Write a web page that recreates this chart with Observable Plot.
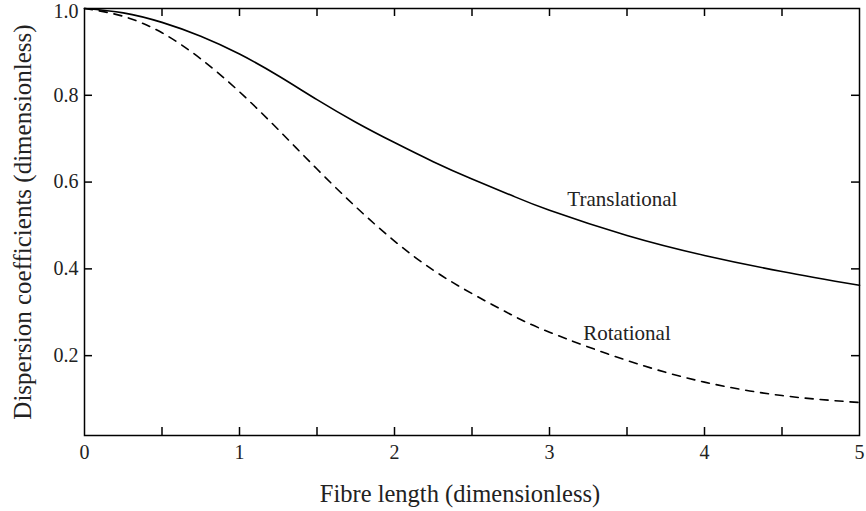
<!DOCTYPE html>
<html>
<head>
<meta charset="utf-8">
<script src="https://cdn.jsdelivr.net/npm/d3@7"></script>
<script src="https://cdn.jsdelivr.net/npm/@observablehq/plot@0.6"></script>
<style>
  html, body { margin: 0; padding: 0; background: #fff; }
  #chart svg { display: block; }
</style>
</head>
<body>
<div id="chart"></div>
<script>
const fibreLength = [0, 0.25, 0.5, 0.75, 1, 1.25, 1.5, 1.75, 2, 2.25, 2.5, 2.75, 3, 3.5, 4, 4.5, 5];
const translational = [1.0, 0.99, 0.968, 0.936, 0.895, 0.845, 0.790, 0.738, 0.691, 0.647, 0.607, 0.570, 0.535, 0.477, 0.431, 0.394, 0.362];
const rotational = [1.0, 0.982, 0.944, 0.884, 0.808, 0.721, 0.630, 0.543, 0.464, 0.397, 0.343, 0.295, 0.254, 0.189, 0.139, 0.108, 0.092];
const xTickLabels = [0, 1, 2, 3, 4, 5];
const xTickMarks = [0.5, 1, 1.5, 2, 2.5, 3, 3.5, 4, 4.5];
const yTickLabels = [0.2, 0.4, 0.6, 0.8];
const yTopLabel = [1.0];
const yTickMarks = [0.2, 0.4, 0.6, 0.8];
const curveLabels = [
  {x: 3.47, y: 0.56, text: "Translational"},
  {x: 3.50, y: 0.251, text: "Rotational"}
];
const xLabel = "Fibre length (dimensionless)";
const yLabel = "Dispersion coefficients (dimensionless)";

const transData = fibreLength.map((x, i) => ({x, y: translational[i]}));
const rotData = fibreLength.map((x, i) => ({x, y: rotational[i]}));

const W = 866, H = 511, mL = 84, mR = 7, mT = 8, mB = 76;
const plotW = W - mL - mR, plotH = H - mT - mB;
const tick = 8;
const font = "'Liberation Serif', 'DejaVu Serif', serif";

const chart = Plot.plot({
  width: W,
  height: H,
  marginLeft: mL,
  marginRight: mR,
  marginTop: mT,
  marginBottom: mB,
  style: {fontFamily: font, color: "#222", background: "#fff"},
  x: {domain: [0, 5]},
  y: {domain: [0.016, 1]},
  marks: [
    Plot.axisX(xTickLabels, {tickSize: 0, tickPadding: 9, fontSize: 20, label: null, tickFormat: d => String(d)}),
    Plot.axisY(yTickLabels, {tickSize: 0, tickPadding: 6, fontSize: 20, label: null, tickFormat: d3.format(".1f")}),
    Plot.axisY(yTopLabel, {tickSize: 0, tickPadding: 6, fontSize: 20, label: null, dy: 3, tickFormat: d3.format(".1f")}),
    Plot.tickX(xTickMarks, {x: d => d, insetTop: plotH - tick, stroke: "#000", strokeWidth: 1.5}),
    Plot.tickX(xTickMarks, {x: d => d, insetBottom: plotH - tick, stroke: "#000", strokeWidth: 1.5}),
    Plot.tickY(yTickMarks, {y: d => d, insetRight: plotW - tick, stroke: "#000", strokeWidth: 1.5}),
    Plot.tickY(yTickMarks, {y: d => d, insetLeft: plotW - tick, stroke: "#000", strokeWidth: 1.5}),
    Plot.line(transData, {x: "x", y: "y", curve: "natural", stroke: "#000", strokeWidth: 1.6}),
    Plot.line(rotData, {x: "x", y: "y", curve: "natural", stroke: "#000", strokeWidth: 1.6, strokeDasharray: "8,7"}),
    Plot.text(curveLabels, {x: "x", y: "y", text: "text", fontSize: 21, fill: "#222", lineAnchor: "middle"}),
    Plot.text([xLabel], {frameAnchor: "bottom", dy: 59, dx: -12, fontSize: 24.5, fill: "#222", textAnchor: "middle", lineAnchor: "middle"}),
    Plot.text([yLabel], {frameAnchor: "left", dx: -62, rotate: -90, fontSize: 25, fill: "#222", textAnchor: "middle", lineAnchor: "middle"}),
    Plot.frame({stroke: "#000", strokeWidth: 1.5})
  ]
});
document.getElementById("chart").appendChild(chart);
</script>
</body>
</html>
